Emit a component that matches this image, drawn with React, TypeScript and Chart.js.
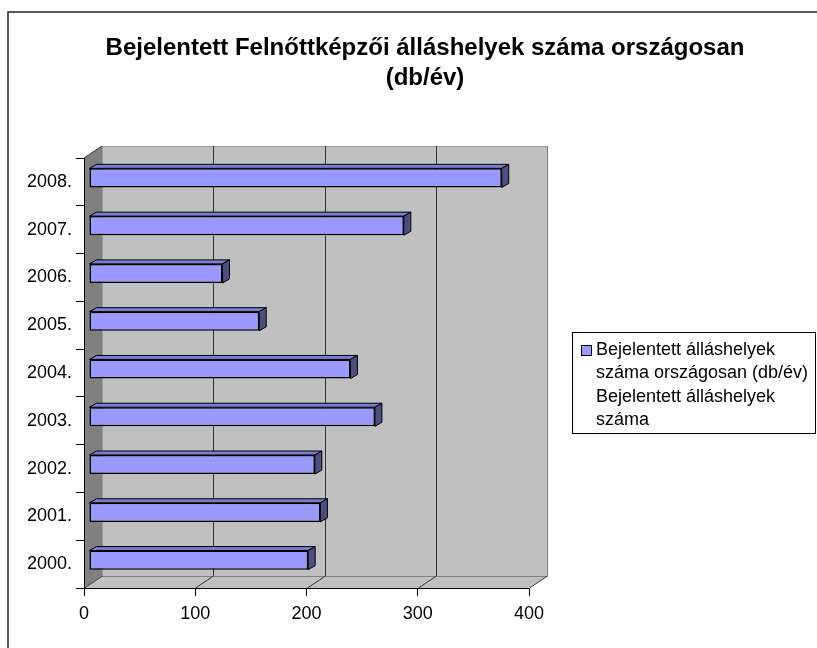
import React, { useEffect, useRef } from 'react';
import { Chart, registerables } from 'chart.js';

Chart.register(...registerables);

// ---- data ----
const categories = ['2000.', '2001.', '2002.', '2003.', '2004.', '2005.', '2006.', '2007.', '2008.'];
const values = [197, 208, 203, 257, 235, 153, 120, 283, 371];
const titleLines = ['Bejelentett Felnőttképzői álláshelyek száma országosan', '(db/év)'];
const legendLines = ['Bejelentett álláshelyek', 'száma országosan (db/év)', 'Bejelentett álláshelyek', 'száma'];
const xMin = 0;
const xMax = 400;
const xStep = 100;

const W = 817;
const H = 648;
const FONT = '"Liberation Sans", Arial, sans-serif';
// 3D geometry (pixels)
const WALL_DX = 18;
const WALL_DY = -12;
const BAR_SHIFT_X = 5;
const BAR_SHIFT_Y = -4;
const BAR_DX = 7;
const BAR_DY = -4;

const threeD = {
  id: 'threeD',
  beforeDraw(chart: any) {
    const { ctx, chartArea: a } = chart;
    const xs = chart.scales.x;
    ctx.save();
    ctx.fillStyle = '#ffffff';
    ctx.fillRect(0, 0, W, H);
    // outer frame
    ctx.strokeStyle = '#222';
    ctx.lineWidth = 1.5;
    ctx.beginPath();
    ctx.moveTo(8, H);
    ctx.lineTo(8, 12);
    ctx.lineTo(W, 12);
    ctx.stroke();

    // back wall
    ctx.fillStyle = '#C0C0C0';
    ctx.fillRect(a.left + WALL_DX, a.top + WALL_DY, a.right - a.left, a.bottom - a.top);
    ctx.strokeStyle = '#9a9a9a';
    ctx.lineWidth = 1;
    ctx.strokeRect(a.left + WALL_DX + 0.5, a.top + WALL_DY + 0.5, a.right - a.left, a.bottom - a.top);

    // side wall
    ctx.fillStyle = '#808080';
    ctx.beginPath();
    ctx.moveTo(a.left, a.top);
    ctx.lineTo(a.left + WALL_DX, a.top + WALL_DY);
    ctx.lineTo(a.left + WALL_DX, a.bottom + WALL_DY);
    ctx.lineTo(a.left, a.bottom);
    ctx.closePath();
    ctx.fill();
    ctx.strokeStyle = '#333';
    ctx.beginPath();
    ctx.moveTo(a.left, a.top);
    ctx.lineTo(a.left + WALL_DX, a.top + WALL_DY);
    ctx.stroke();

    // floor
    ctx.fillStyle = '#C0C0C0';
    ctx.beginPath();
    ctx.moveTo(a.left, a.bottom);
    ctx.lineTo(a.right, a.bottom);
    ctx.lineTo(a.right + WALL_DX, a.bottom + WALL_DY);
    ctx.lineTo(a.left + WALL_DX, a.bottom + WALL_DY);
    ctx.closePath();
    ctx.fill();
    ctx.strokeStyle = '#808080';
    ctx.beginPath();
    ctx.moveTo(a.left + WALL_DX, a.bottom + WALL_DY + 0.5);
    ctx.lineTo(a.right + WALL_DX, a.bottom + WALL_DY + 0.5);
    ctx.stroke();

    // grid lines on back wall and floor
    ctx.lineWidth = 1;
    for (let v = xMin; v <= xMax; v += xStep) {
      const px = Math.round(xs.getPixelForValue(v)) + 0.5;
      ctx.strokeStyle = v === xMax ? '#808080' : '#333';
      if (v > xMin) {
        ctx.beginPath();
        ctx.moveTo(px + WALL_DX, a.top + WALL_DY);
        ctx.lineTo(px + WALL_DX, a.bottom + WALL_DY);
        ctx.stroke();
      }
      ctx.strokeStyle = '#333';
      ctx.beginPath();
      ctx.moveTo(px, a.bottom);
      ctx.lineTo(px + WALL_DX, a.bottom + WALL_DY);
      ctx.stroke();
    }
    ctx.restore();
  },
  beforeDatasetsDraw(chart: any) {
    const { ctx } = chart;
    ctx.save();
    ctx.translate(BAR_SHIFT_X, BAR_SHIFT_Y);
    const meta = chart.getDatasetMeta(0);
    ctx.lineWidth = 1;
    ctx.strokeStyle = '#000';
    ctx.lineJoin = 'round';
    meta.data.forEach((el: any) => {
      const p = el.getProps(['x', 'y', 'base', 'height'], true);
      const x0 = p.base;
      const x1 = p.x;
      const yt = p.y - p.height / 2;
      const yb = p.y + p.height / 2;
      // top face
      ctx.fillStyle = '#7C7CCF';
      ctx.beginPath();
      ctx.moveTo(x0, yt);
      ctx.lineTo(x0 + BAR_DX, yt + BAR_DY);
      ctx.lineTo(x1 + BAR_DX, yt + BAR_DY);
      ctx.lineTo(x1, yt);
      ctx.closePath();
      ctx.fill();
      ctx.stroke();
      // side face
      ctx.fillStyle = '#4D4D80';
      ctx.beginPath();
      ctx.moveTo(x1, yt);
      ctx.lineTo(x1 + BAR_DX, yt + BAR_DY);
      ctx.lineTo(x1 + BAR_DX, yb + BAR_DY);
      ctx.lineTo(x1, yb);
      ctx.closePath();
      ctx.fill();
      ctx.stroke();
    });
  },
  afterDatasetsDraw(chart: any) {
    chart.ctx.restore();
  },
  afterDraw(chart: any) {
    const { ctx } = chart;
    ctx.save();
    // title
    ctx.fillStyle = '#000';
    ctx.font = `bold 24px ${FONT}`;
    ctx.textAlign = 'center';
    ctx.textBaseline = 'middle';
    titleLines.forEach((t, i) => ctx.fillText(t, 425, 48 + i * 30));

    // legend
    const bx = 572, by = 332, bw = 243, bh = 101;
    ctx.fillStyle = '#fff';
    ctx.fillRect(bx, by, bw, bh);
    ctx.strokeStyle = '#000';
    ctx.lineWidth = 1;
    ctx.strokeRect(bx + 0.5, by + 0.5, bw, bh);
    ctx.fillStyle = '#9999FF';
    ctx.fillRect(581, 345, 10, 10);
    ctx.strokeRect(581.5, 345.5, 10, 10);
    ctx.fillStyle = '#000';
    ctx.font = `18px ${FONT}`;
    ctx.textAlign = 'left';
    ctx.textBaseline = 'middle';
    legendLines.forEach((t, i) => ctx.fillText(t, 596, 350 + i * 23.5));
    ctx.restore();
  },
};

export default function App() {
  const ref = useRef<HTMLCanvasElement | null>(null);
  useEffect(() => {
    if (!ref.current) return;
    const chart = new Chart(ref.current, {
      type: 'bar',
      data: {
        labels: categories,
        datasets: [
          {
            label: legendLines.join(' '),
            data: values,
            backgroundColor: '#9999FF',
            borderColor: '#000',
            borderWidth: 1.5,
            borderSkipped: false,
            barPercentage: 0.5,
            categoryPercentage: 0.8,
            clip: false,
          } as any,
        ],
      },
      options: {
        indexAxis: 'y',
        animation: false,
        responsive: false,
        events: [],
        layout: { padding: { top: 158, left: 0, right: 288, bottom: 0 } },
        plugins: {
          legend: { display: false },
          title: { display: false },
          tooltip: { enabled: false },
        },
        scales: {
          x: {
            type: 'linear',
            min: xMin,
            max: xMax,
            ticks: { stepSize: xStep, color: '#000', font: { family: FONT, size: 18 }, padding: 7 },
            grid: { drawOnChartArea: false, drawTicks: true, tickLength: 8, color: '#000' },
            border: { display: true, color: '#000', width: 1 },
            afterFit: (s: any) => {
              s.height = 60;
            },
          },
          y: {
            type: 'category',
            reverse: true,
            ticks: { color: '#000', font: { family: FONT, size: 18 }, padding: 4 },
            grid: { drawOnChartArea: false, drawTicks: true, tickLength: 8, color: '#000', offset: true },
            border: { display: true, color: '#000', width: 1 },
            afterFit: (s: any) => {
              s.width = 84;
            },
          },
        },
      },
      plugins: [threeD],
    });
    return () => chart.destroy();
  }, []);
  return (
    <div style={{ position: 'fixed', left: 0, top: 0, width: W, height: H }}>
      <canvas ref={ref} width={W} height={H} style={{ display: 'block' }} />
    </div>
  );
}
